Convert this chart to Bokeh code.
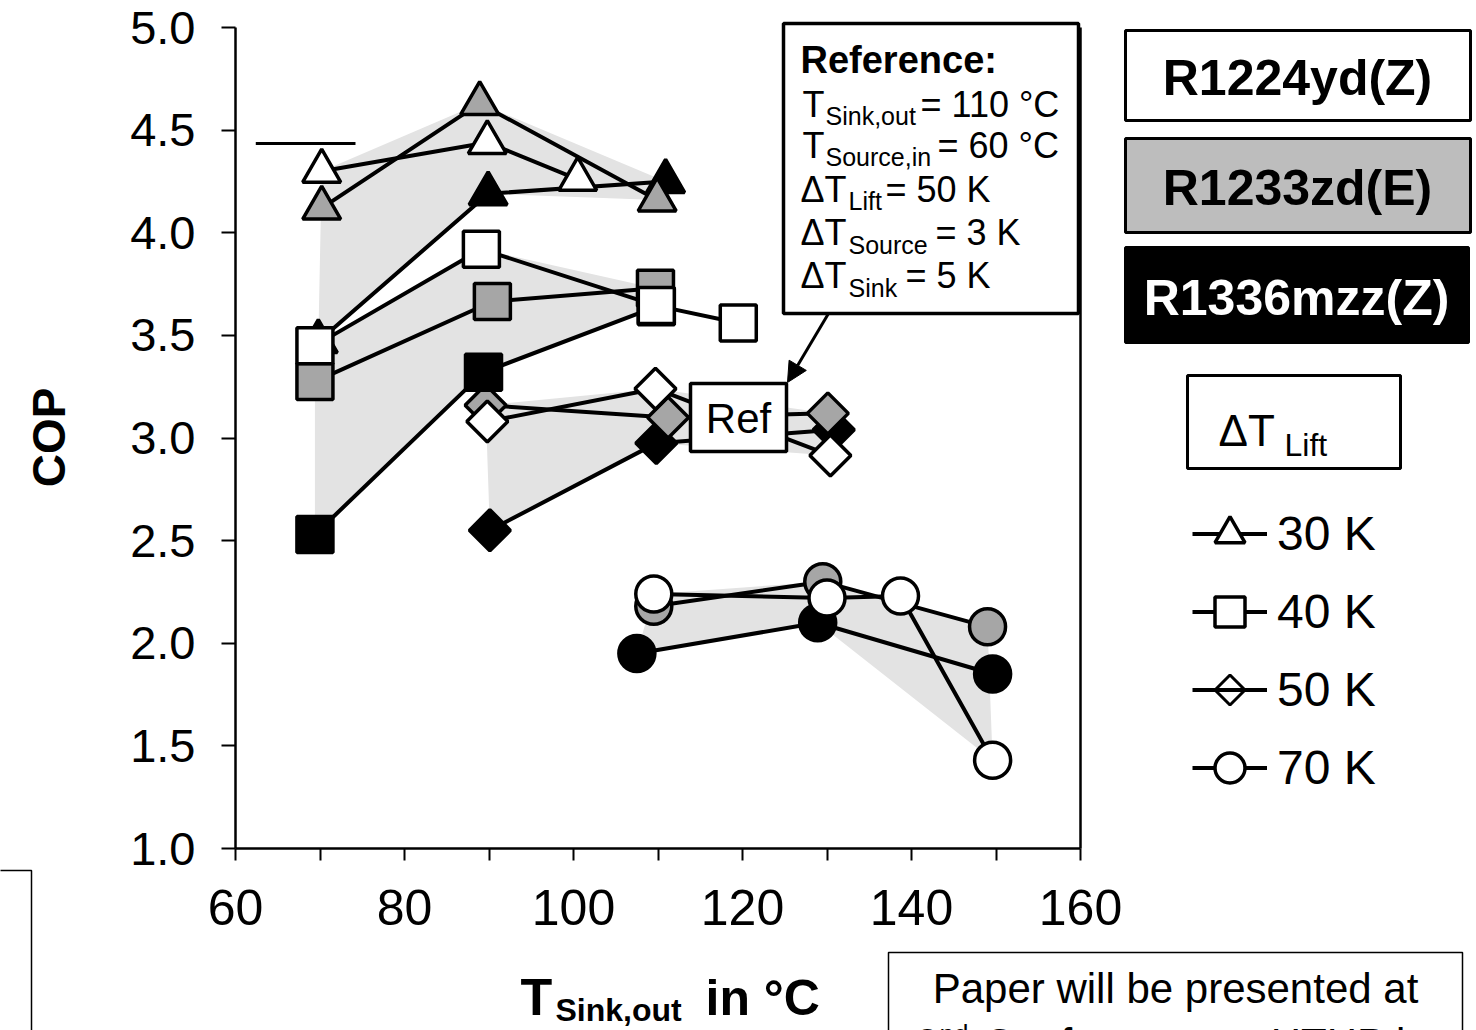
import numpy as np
from bokeh.plotting import figure
from bokeh.models import (Range1d, LinearAxis, FixedTicker, NumeralTickFormatter,
                          BoxAnnotation, PolyAnnotation, Label, Arrow, NormalHead,
                          Legend, LegendItem)
from bokeh.embed import file_html
from bokeh.resources import INLINE

# ---------------- data ----------------
lift_labels = ["30 K", "40 K", "50 K", "70 K"]
refrigerants = ["R1224yd(Z)", "R1233zd(E)", "R1336mzz(Z)"]

# dT_Lift = 30 K (triangles)
t_30_r1224yd = [70.2, 89.8, 100.5]
cop_30_r1224yd = [4.30, 4.44, 4.26]
t_30_r1233zd = [70.2, 88.9, 109.9]
cop_30_r1233zd = [4.12, 4.63, 4.16]
t_30_r1336mzz = [69.8, 89.9, 110.9]
cop_30_r1336mzz = [3.47, 4.19, 4.25]

# dT_Lift = 40 K (squares)
t_40_r1224yd = [69.4, 89.1, 109.8, 119.5]
cop_40_r1224yd = [3.45, 3.92, 3.645, 3.56]
t_40_r1233zd = [69.4, 90.4, 109.7]
cop_40_r1233zd = [3.275, 3.665, 3.73]
t_40_r1336mzz = [69.4, 89.35, 109.8]
cop_40_r1336mzz = [2.53, 3.32, 3.64]

# dT_Lift = 50 K (diamonds)
t_50_r1224yd = [89.8, 109.7, 130.4]
cop_50_r1224yd = [3.08, 3.24, 2.915]
t_50_r1233zd = [89.6, 111.2, 130.1]
cop_50_r1233zd = [3.16, 3.10, 3.12]
t_50_r1336mzz = [90.1, 109.8, 130.8]
cop_50_r1336mzz = [2.55, 2.975, 3.04]

# dT_Lift = 70 K (circles)
t_70_r1224yd = [109.5, 130.0, 138.7, 149.6]
cop_70_r1224yd = [2.24, 2.22, 2.23, 1.43]
t_70_r1233zd = [109.5, 129.5, 149.0]
cop_70_r1233zd = [2.18, 2.30, 2.08]
t_70_r1336mzz = [107.5, 128.9, 149.6]
cop_70_r1336mzz = [1.95, 2.10, 1.85]

# short stray line at top left of the plot
stray_line_t = [62.4, 74.2]
stray_line_cop = [4.435, 4.435]

x_ticks = [60, 80, 100, 120, 140, 160]
x_minor_ticks = [70, 90, 110, 130, 150]
y_ticks = [1.0, 1.5, 2.0, 2.5, 3.0, 3.5, 4.0, 4.5, 5.0]
x_bounds = (60, 160)
y_bounds = (1.0, 5.0)

# ---------------- layout helpers (page pixel -> data) ----------------
W, H = 1476, 1030
PX_L, PX_R, PY_T, PY_B = 235, 1080, 27, 848   # where the axes box sits on the page


def X(px):
    return x_bounds[0] + (px - PX_L) * (x_bounds[1] - x_bounds[0]) / (PX_R - PX_L)


def Y(py):
    return y_bounds[1] - (py - PY_T) * (y_bounds[1] - y_bounds[0]) / (PY_B - PY_T)


FONT = "Liberation Sans"

p = figure(width=W, height=H, x_range=Range1d(X(0), X(W)), y_range=Range1d(Y(H), Y(0)),
           output_backend="svg", toolbar_location=None,
           min_border_left=0, min_border_right=0, min_border_top=0, min_border_bottom=0)
p.outline_line_color = None
p.grid.visible = False
p.background_fill_color = "white"
p.border_fill_color = "white"

xa = p.xaxis[0]
xa.fixed_location = y_bounds[0]
xa.bounds = x_bounds
xa.ticker = FixedTicker(ticks=x_ticks, minor_ticks=x_minor_ticks)
xa.axis_line_width = 2.5
xa.axis_line_color = "black"
xa.major_tick_line_width = 2
xa.minor_tick_line_width = 2
xa.major_tick_line_color = "black"
xa.minor_tick_line_color = "black"
xa.major_tick_out = 12
xa.major_tick_in = 0
xa.minor_tick_out = 12
xa.minor_tick_in = 0
xa.major_label_text_font = FONT
xa.major_label_text_font_size = "50px"
xa.major_label_text_color = "black"
xa.major_label_standoff = 29

ya = p.yaxis[0]
ya.fixed_location = x_bounds[0]
ya.bounds = y_bounds
ya.ticker = FixedTicker(ticks=y_ticks)
ya.formatter = NumeralTickFormatter(format="0.0")
ya.axis_line_width = 2.5
ya.axis_line_color = "black"
ya.major_tick_line_width = 2
ya.major_tick_line_color = "black"
ya.minor_tick_line_color = None
ya.major_tick_out = 14
ya.major_tick_in = 0
ya.major_label_text_font = FONT
ya.major_label_text_font_size = "47px"
ya.major_label_text_color = "black"
ya.major_label_standoff = 26

right_axis = LinearAxis(fixed_location=x_bounds[1], bounds=y_bounds,
                        ticker=FixedTicker(ticks=[]), major_label_text_font_size="0px",
                        major_tick_line_color=None, minor_tick_line_color=None,
                        axis_line_width=2.5, axis_line_color="black")
p.add_layout(right_axis, "right")

fills = {"R1224yd(Z)": "#ffffff", "R1233zd(E)": "#a6a6a6", "R1336mzz(Z)": "#000000"}
series = {
    "30 K": [(t_30_r1336mzz, cop_30_r1336mzz, "R1336mzz(Z)"),
             (t_30_r1233zd, cop_30_r1233zd, "R1233zd(E)"),
             (t_30_r1224yd, cop_30_r1224yd, "R1224yd(Z)")],
    "40 K": [(t_40_r1336mzz, cop_40_r1336mzz, "R1336mzz(Z)"),
             (t_40_r1233zd, cop_40_r1233zd, "R1233zd(E)"),
             (t_40_r1224yd, cop_40_r1224yd, "R1224yd(Z)")],
    "50 K": [(t_50_r1336mzz, cop_50_r1336mzz, "R1336mzz(Z)"),
             (t_50_r1233zd, cop_50_r1233zd, "R1233zd(E)"),
             (t_50_r1224yd, cop_50_r1224yd, "R1224yd(Z)")],
    "70 K": [(t_70_r1336mzz, cop_70_r1336mzz, "R1336mzz(Z)"),
             (t_70_r1233zd, cop_70_r1233zd, "R1233zd(E)"),
             (t_70_r1224yd, cop_70_r1224yd, "R1224yd(Z)")],
}
marker_style = {"30 K": ("triangle", 0.0, 38),
                "40 K": ("square", 0.0, 36),
                "50 K": ("square", np.pi / 4, 29),
                "70 K": ("circle", 0.0, 36)}

# ---- shaded bands (envelope of the refrigerants for each lift) ----
for lift in lift_labels:
    groups = {}
    for t, c, _ in series[lift]:
        for ti, ci in zip(t, c):
            groups.setdefault(int(np.round(ti / 10.0)), []).append((ti, ci))
    keys = sorted(k for k in groups if len(groups[k]) >= 2)
    up = [max(groups[k], key=lambda q: q[1]) for k in keys]
    lo = [min(groups[k], key=lambda q: q[1]) for k in keys]
    bx = [q[0] for q in up] + [q[0] for q in lo[::-1]]
    by = [q[1] for q in up] + [q[1] for q in lo[::-1]]
    p.patch(bx, by, fill_color="#e3e3e3", line_color=None)

p.line(stray_line_t, stray_line_cop, line_color="black", line_width=3)

# ---- series ----
legend_renderers = {}
for lift in ["50 K", "70 K", "30 K", "40 K"]:
    mk, ang, sz = marker_style[lift]
    for t, c, ref in series[lift]:
        lr = p.line(t, c, line_color="black", line_width=4)
        sr = p.scatter(t, c, marker=mk, angle=ang, size=sz, fill_color=fills[ref],
                       line_color="black", line_width=3.5)
        if ref == "R1224yd(Z)":
            # legend glyphs cannot show the rotated square, so 50 K keeps only its line
            legend_renderers[lift] = [lr] if ang != 0.0 else [lr, sr]


# ---- annotations ----
def box(x0, y0, x1, y1, fill="white", lw=3.0):
    p.add_layout(BoxAnnotation(left=X(x0), right=X(x1), top=Y(y0), bottom=Y(y1),
                               fill_color=fill, fill_alpha=1.0, line_color="black",
                               line_alpha=1.0, line_width=lw, level="annotation"))


def lab(txt, px, py, size, bold=False, align="left", color="black", angle=0.0,
        centered=False):
    # py is the text baseline on the page unless centered=True
    ym = py if centered else py - 0.36 * size
    p.add_layout(Label(x=X(px), y=Y(ym), text=txt, text_font=FONT,
                       text_font_size=f"{size}px",
                       text_font_style="bold" if bold else "normal",
                       text_color=color, text_align=align, text_baseline="middle",
                       angle=angle))


# Reference info box
box(783, 23, 1078, 313, lw=3.5)
lab("Reference:", 800, 73, 38, bold=True)
lab("T", 802, 117, 36)
lab("Sink,out", 825, 124, 25)
lab("= 110 °C", 920, 117, 36)
lab("T", 802, 158, 36)
lab("Source,in", 825, 165, 25)
lab("= 60 °C", 937, 158, 36)
lab("ΔT", 800, 202, 36)
lab("Lift", 848, 209, 25)
lab("= 50 K", 885, 202, 36)
lab("ΔT", 800, 245, 36)
lab("Source", 848, 253, 25)
lab("= 3 K", 935, 245, 36)
lab("ΔT", 800, 288, 36)
lab("Sink", 848, 296, 25)
lab("= 5 K", 905, 288, 36)

p.add_layout(Arrow(end=NormalHead(size=20, fill_color="black", line_color="black"),
                   x_start=X(828), y_start=Y(313), x_end=X(787), y_end=Y(382),
                   line_width=3, line_color="black"))

# Ref box
box(690, 383, 786, 451, lw=3.5)
lab("Ref", 738, 418, 42, align="center", centered=True)

# refrigerant boxes
box(1125, 30, 1470, 120, fill="white", lw=3)
lab("R1224yd(Z)", 1297, 95, 50, bold=True, align="center")
box(1125, 138, 1470, 232, fill="#bdbdbd", lw=3)
lab("R1233zd(E)", 1297, 205, 50, bold=True, align="center")
box(1125, 247, 1468, 342, fill="black", lw=3)
lab("R1336mzz(Z)", 1296, 315, 50, bold=True, align="center", color="white")

# dT_Lift box
box(1187, 375, 1400, 468, lw=3)
lab("ΔT", 1218, 446, 44)
lab("Lift", 1284, 456, 32)

# axis titles
lab("COP", 48, 437, 46, bold=True, align="center", angle=np.pi / 2, centered=True)
lab("T", 520, 1015, 52, bold=True)
lab("Sink,out", 555, 1021, 32, bold=True)
lab("in °C", 705, 1015, 50, bold=True)

# bottom boxes
box(-20, 870, 31, 1080, lw=1.5)
box(888, 952, 1462, 1080, lw=1.5)
lab("Paper will be presented at", 1175, 1003, 42, align="center")
lab("2", 915, 1058, 42)
lab("nd", 939, 1043, 26)
lab("Conference on HTHP in", 983, 1058, 42)

# ---- legend ----
items = [LegendItem(label=lift, renderers=legend_renderers[lift]) for lift in lift_labels]
LEG_LEFT, LEG_BOTTOM, GLYPH, SPACING = 1192, 805, 75, 3
legend = Legend(items=items, location=(LEG_LEFT, H - LEG_BOTTOM),
                glyph_width=GLYPH, glyph_height=GLYPH, label_height=GLYPH, spacing=SPACING,
                padding=0, margin=0, label_standoff=10,
                label_text_font=FONT, label_text_font_size="48px",
                label_text_color="black",
                background_fill_alpha=0.0, border_line_color=None)
p.add_layout(legend)

# diamond sample of the 50 K legend row (third row of the legend)
leg_top = LEG_BOTTOM - (4 * GLYPH + 3 * SPACING)
cx = LEG_LEFT + GLYPH / 2
cy = leg_top + 2 * (GLYPH + SPACING) + GLYPH / 2
hd = 15
p.add_layout(PolyAnnotation(xs=[X(cx), X(cx + hd), X(cx), X(cx - hd)],
                            ys=[Y(cy - hd), Y(cy), Y(cy + hd), Y(cy)],
                            fill_color="white", fill_alpha=1.0, line_color="black",
                            line_alpha=1.0, line_width=3))

open("out.html", "w").write(file_html(p, INLINE))
